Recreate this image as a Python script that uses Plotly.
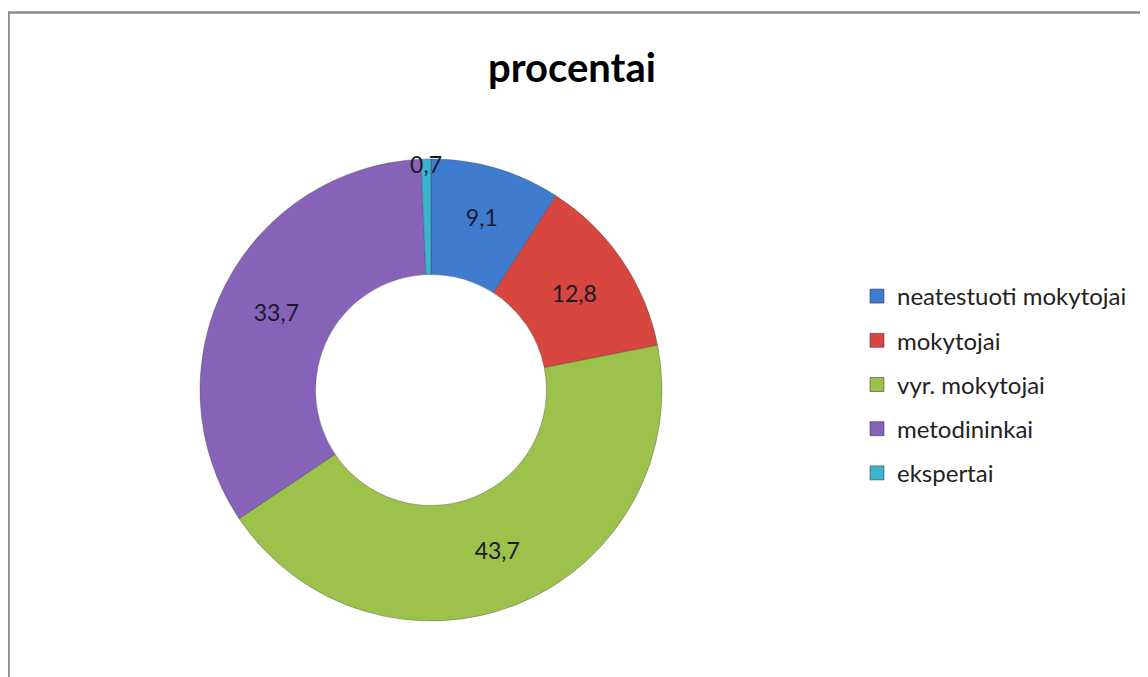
import plotly.graph_objects as go

categories = ["neatestuoti mokytojai", "mokytojai", "vyr. mokytojai", "metodininkai", "ekspertai"]
values = [9.1, 12.8, 43.7, 33.7, 0.7]
colors = ["#3f7cd0", "#d8473f", "#9cc24c", "#8662b8", "#3db4cf"]

W, H = 1148, 677
OFF = 8  # page body margin offset
labels_txt = [f"{v:.1f}".replace(".", ",") for v in values]
FONT = "Lato, 'Open Sans', sans-serif"

fig = go.Figure()
fig.add_trace(go.Pie(
    labels=categories,
    values=values,
    text=labels_txt,
    textinfo="text",
    textposition="inside",
    insidetextorientation="horizontal",
    hole=0.5,
    sort=False,
    direction="clockwise",
    rotation=0,
    showlegend=False,
    marker=dict(colors=colors, line=dict(color="rgba(60,60,60,0.35)", width=1)),
    textfont=dict(family=FONT, size=23, color="#1a1a2a"),
    domain=dict(x=[(200 - OFF) / W, (662 - OFF) / W], y=[1 - (621 - OFF) / H, 1 - (159 - OFF) / H]),
))

# legend entries (one per category) so the rows can be spaced like the reference
for cat, col in zip(categories, colors):
    fig.add_trace(go.Scatter(
        x=[None], y=[None], mode="markers", name=cat, legendgroup=cat,
        marker=dict(symbol="square", size=14, color=col, line=dict(color="rgba(40,40,60,0.5)", width=1)),
        showlegend=True, hoverinfo="skip",
    ))

fig.update_layout(
    width=W, height=H,
    margin=dict(l=0, r=0, t=0, b=0),
    paper_bgcolor="white",
    plot_bgcolor="white",
    xaxis=dict(visible=False),
    yaxis=dict(visible=False),
    uniformtext=dict(minsize=23, mode="show"),
    title=dict(text="<b>procentai</b>", x=(572 - OFF) / W, xanchor="center", y=1 - (68 - OFF) / H, yanchor="middle",
               font=dict(family=FONT, size=40, color="#000000")),
    legend=dict(x=(857 - OFF) / W, y=1 - (274 - OFF) / H, xanchor="left", yanchor="top",
                font=dict(family=FONT, size=24, color="#222222"),
                traceorder="grouped", tracegroupgap=10, itemsizing="trace",
                bgcolor="rgba(0,0,0,0)"),
    shapes=[dict(type="rect", xref="paper", yref="paper",
                 x0=(8.5 - OFF + 8) / W - 8 / W, y0=-0.05, x1=1.05, y1=1 - (12.5 - OFF) / H,
                 line=dict(color="#8a8a8a", width=2.5), fillcolor="rgba(0,0,0,0)")],
)

fig.write_html("out.html")
